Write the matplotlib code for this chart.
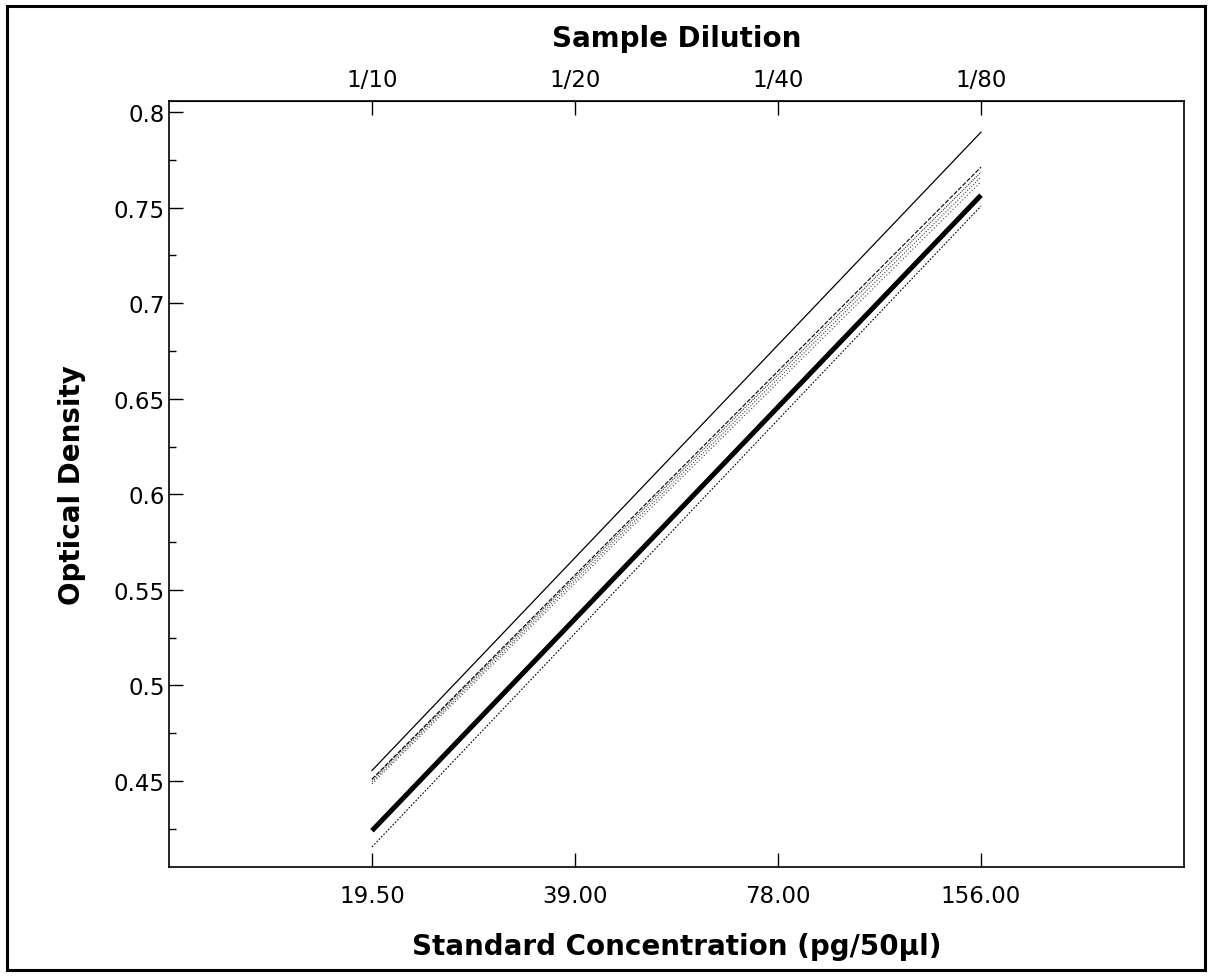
import numpy as np
import matplotlib.pyplot as plt
from matplotlib.patches import Rectangle
from matplotlib.ticker import NullLocator

# standard curve + sample dilution lines
conc = [19.5, 156.0]
conc_ticks = [19.5, 39.0, 78.0, 156.0]
conc_labels = ['19.50', '39.00', '78.00', '156.00']
dil_labels = ['1/10', '1/20', '1/40', '1/80']

od_standard = [0.424, 0.7565]
od_s1 = [0.4555, 0.7895]
od_s2 = [0.451, 0.7712]
od_s3 = [0.4505, 0.7686]
od_s4 = [0.4495, 0.766]
od_s5 = [0.4485, 0.7635]
od_s6 = [0.4155, 0.7508]

fig = plt.figure(figsize=(12.12, 9.78), dpi=100)
ax = fig.add_axes([169/1212, 1-868/978, (1184-169)/1212, (868-102)/978])

ax.plot(conc, od_s1, color='black', lw=0.9)
ax.plot(conc, od_s2, color='black', lw=0.8, ls=(0, (4, 1.5)))
ax.plot(conc, od_s3, color='#333333', lw=0.8, ls=(0, (1, 1)))
ax.plot(conc, od_s4, color='#444444', lw=0.8, ls=(0, (1, 1.5)))
ax.plot(conc, od_s5, color='#444444', lw=0.8, ls=(0, (1, 2)))
ax.plot(conc, od_standard, color='black', lw=3.6, solid_capstyle='butt')
ax.plot(conc, od_s6, color='black', lw=0.8, ls=(0, (1.5, 1.5)))

ax.set_xscale('log', base=2)
ax.set_xlim(9.75, 312)
ax.set_ylim(0.405, 0.8058)
ax.set_xticks(conc_ticks)
ax.set_xticklabels(conc_labels)
ax.xaxis.set_minor_locator(NullLocator())
ax.set_yticks([0.45, 0.5, 0.55, 0.6, 0.65, 0.7, 0.75, 0.8])
ax.set_yticklabels(['0.45', '0.5', '0.55', '0.6', '0.65', '0.7', '0.75', '0.8'])
ax.set_yticks(np.arange(0.425, 0.80, 0.05), minor=True)
ax.tick_params(axis='y', which='major', direction='in', length=10, width=1, labelsize=16.5, pad=3)
ax.tick_params(axis='y', which='minor', direction='in', length=5, width=1)
ax.tick_params(axis='x', which='major', direction='in', length=10, width=1, labelsize=16.5, pad=12)
for s in ax.spines.values():
    s.set_linewidth(1.2)

ax.set_xlabel('Standard Concentration (pg/50µl)', fontsize=20, fontweight='bold', labelpad=18)
ax.set_ylabel('Optical Density', fontsize=20, fontweight='bold', labelpad=20)

top = ax.secondary_xaxis('top')
top.set_xticks(conc_ticks)
top.set_xticklabels(dil_labels)
top.xaxis.set_minor_locator(NullLocator())
top.tick_params(direction='in', length=10, width=1, labelsize=16.5, pad=7)
top.set_xlabel('Sample Dilution', fontsize=20, fontweight='bold', labelpad=16)

# outer frame
fig.patches.append(Rectangle((7/1212, 7/978), 1-14/1212, 1-14/978, transform=fig.transFigure,
                             fill=False, edgecolor='black', lw=2.2))

plt.savefig('out.png', dpi=100)
